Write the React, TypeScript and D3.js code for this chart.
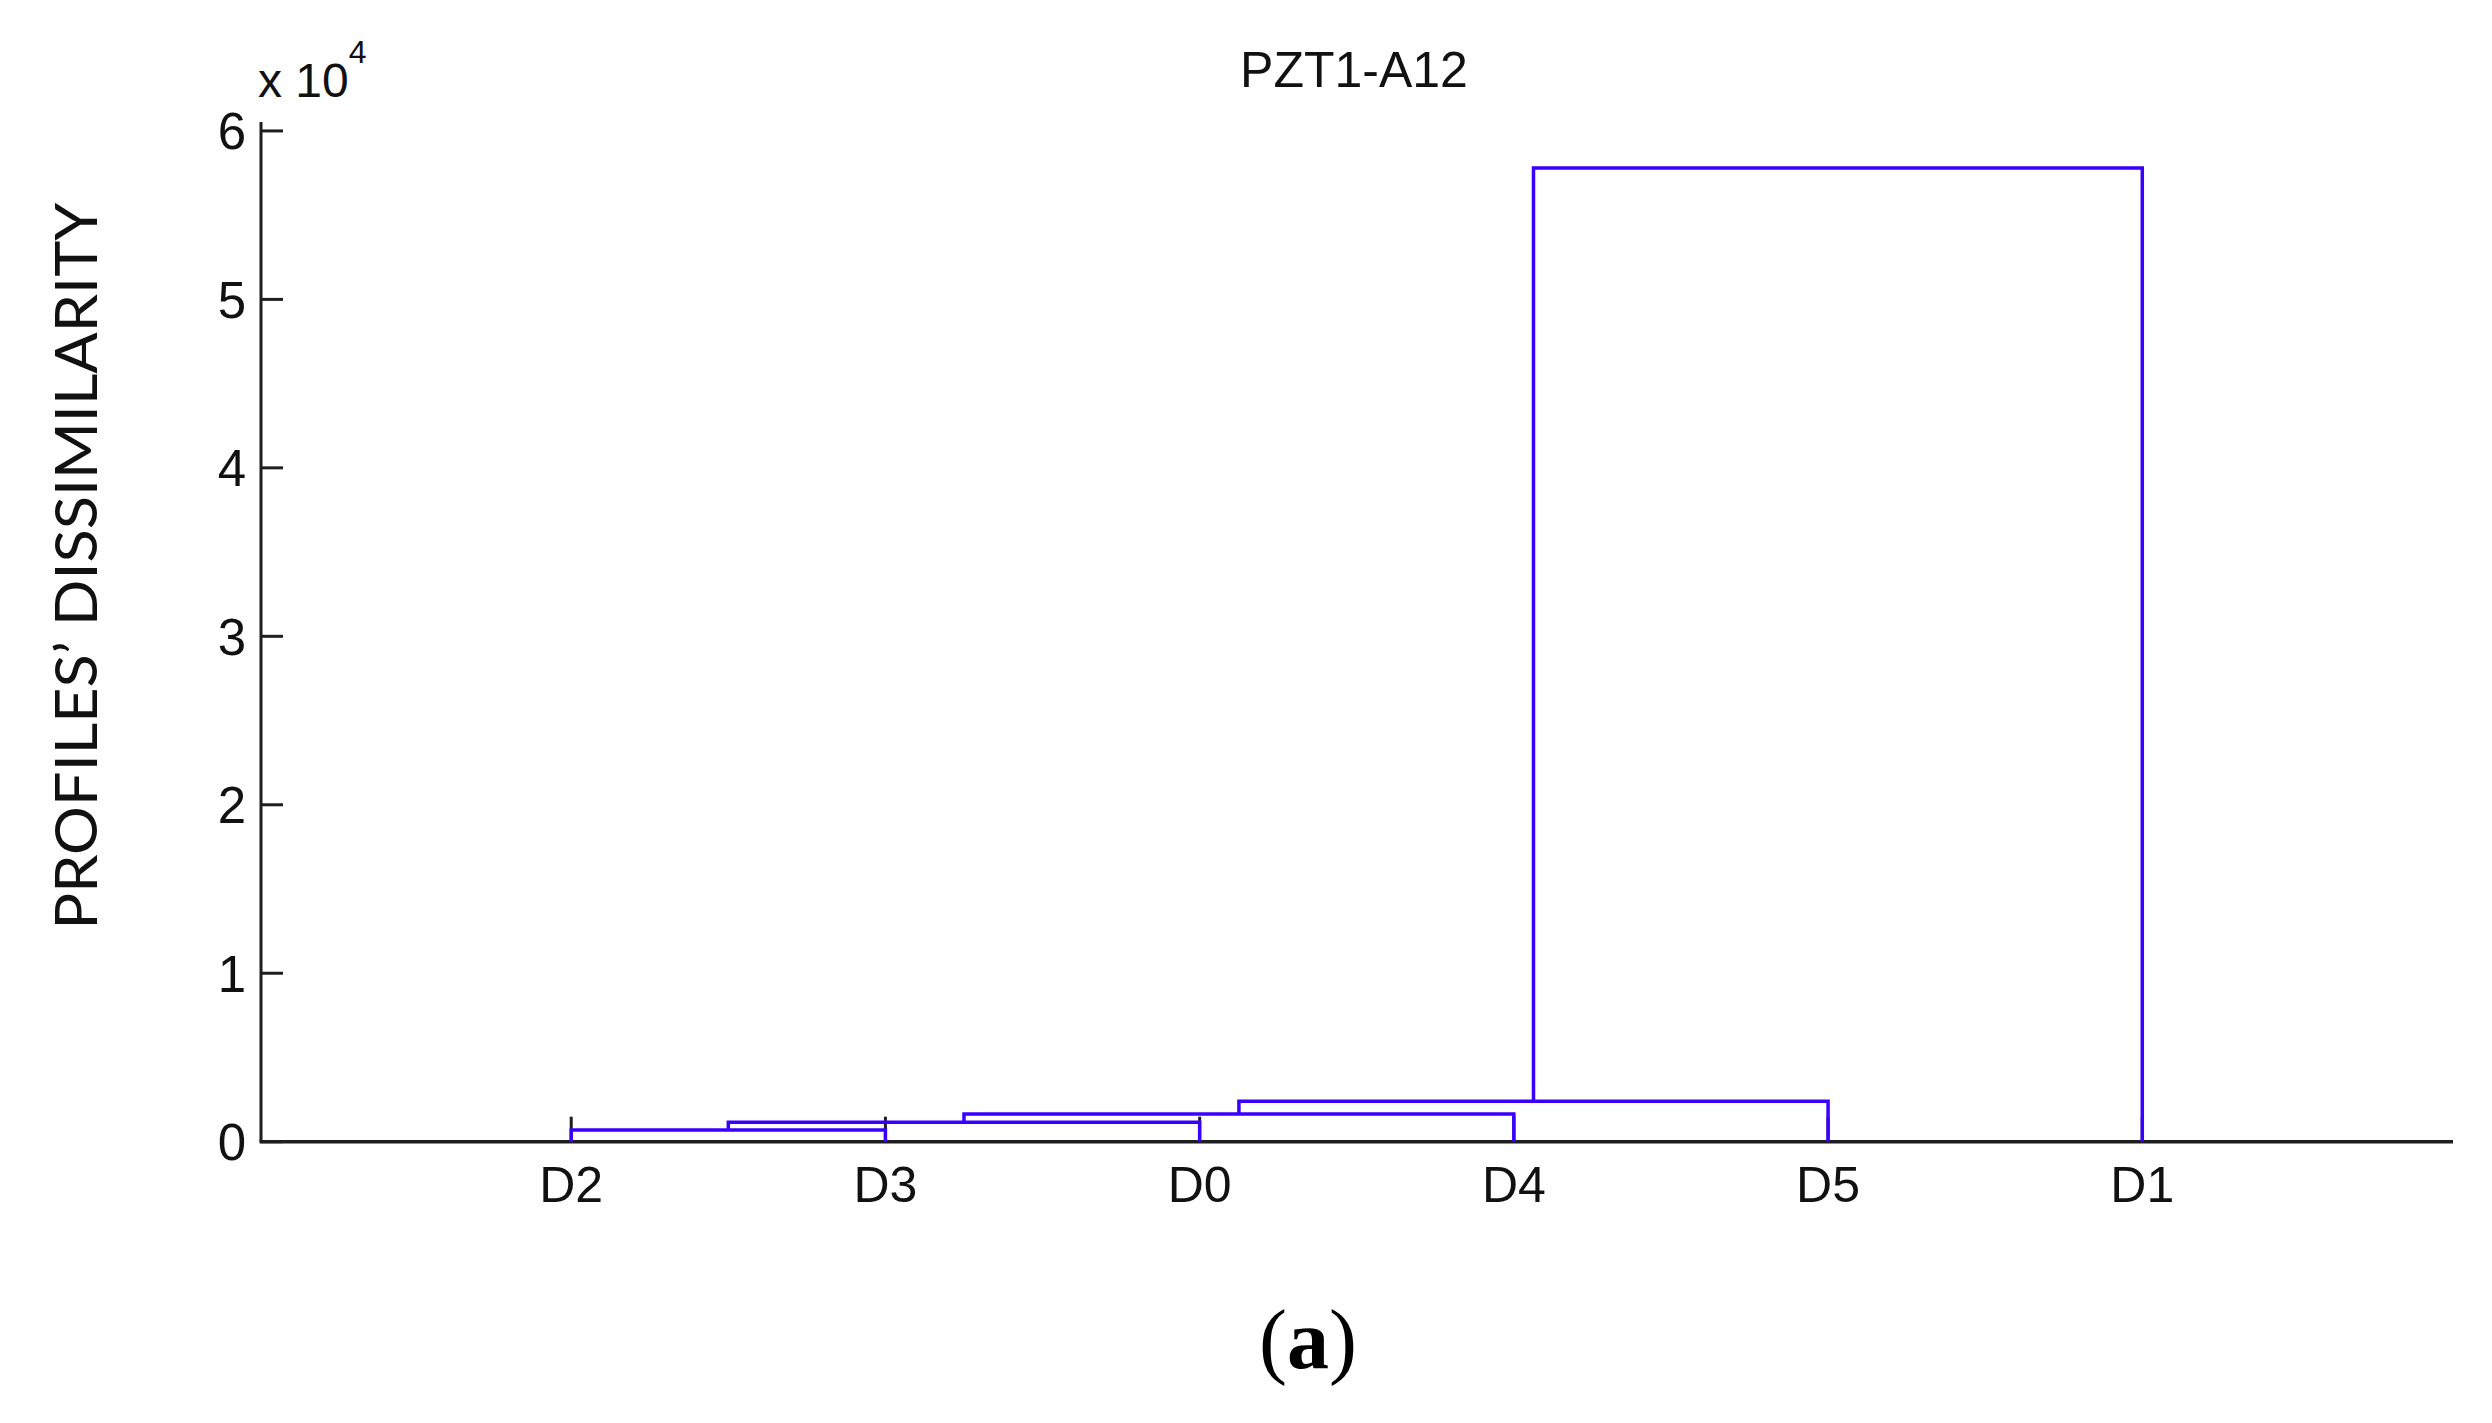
import React from "react";
import * as d3 from "d3";

// Leaves in dendrogram order
const leafLabels = ["D2", "D3", "D0", "D4", "D5", "D1"];
// Linkage: node ids 0..5 are leaves (in order above), new clusters get ids 6,7,...
const mergeLeft = [0, 6, 7, 8, 9];
const mergeRight = [1, 2, 3, 4, 5];
const mergeHeight = [690, 1160, 1650, 2400, 57800];
// Y ticks (units of 10^4)
const yTicks = [0, 1, 2, 3, 4, 5, 6];

const W = 2492;
const H = 1423;
const axLeft = 261;
const axRight = 2453;
const axBottom = 1141.7;
const axTop = 122;
const yMax = 60530;

const BLUE = "#3a00ff";
const AXIS = "#1e1e1e";
const FONT = "'Liberation Sans', Arial, Helvetica, sans-serif";

export default function App() {
  const x = d3.scaleLinear().domain([0, leafLabels.length + 1]).range([257, 2456.5]);
  const y = d3.scaleLinear().domain([0, yMax]).range([axBottom, axTop]);

  // compute node positions
  const nodeX: number[] = leafLabels.map((_, i) => i + 1);
  const nodeH: number[] = leafLabels.map(() => 0);
  const links: string[] = [];
  mergeLeft.forEach((a, i) => {
    const b = mergeRight[i];
    const h = mergeHeight[i];
    const p = d3.path();
    p.moveTo(x(nodeX[a]), y(nodeH[a]));
    p.lineTo(x(nodeX[a]), y(h));
    p.lineTo(x(nodeX[b]), y(h));
    p.lineTo(x(nodeX[b]), y(nodeH[b]));
    links.push(p.toString());
    nodeX.push((nodeX[a] + nodeX[b]) / 2);
    nodeH.push(h);
  });

  const tickLen = 22;

  return (
    <svg
      width={W}
      height={H}
      viewBox={`0 0 ${W} ${H}`}
      style={{ position: "absolute", left: 0, top: 0, background: "#fff" }}
    >
      <rect x={0} y={0} width={W} height={H} fill="#fff" />
      {/* title */}
      <text x={1354} y={87} textAnchor="middle" fontFamily={FONT} fontSize={50} fill="#111">
        PZT1-A12
      </text>
      {/* exponent */}
      <text x={258} y={97} fontFamily={FONT} fontSize={48} fill="#111">
        x 10
        <tspan dy={-34} fontSize={32}>4</tspan>
      </text>
      {/* y axis label */}
      <text
        transform={`translate(97,566) rotate(-90)`}
        textAnchor="middle"
        fontFamily="Lato, 'Open Sans', sans-serif"
        fontSize={58}
        fill="#111"
        textLength={727}
        lengthAdjust="spacingAndGlyphs"
      >
        PROFILES’ DISSIMILARITY
      </text>
      {/* y ticks */}
      {yTicks.map((t) => (
        <g key={t}>
          <line x1={axLeft} x2={axLeft + tickLen} y1={y(t * 1e4)} y2={y(t * 1e4)} stroke={AXIS} strokeWidth={3} />
          <text
            x={246}
            y={y(t * 1e4)}
            dy="0.36em"
            textAnchor="end"
            fontFamily={FONT}
            fontSize={51}
            fill="#111"
          >
            {t}
          </text>
        </g>
      ))}
      {/* x ticks */}
      {leafLabels.map((l, i) => (
        <g key={l}>
          <line x1={x(i + 1)} x2={x(i + 1)} y1={axBottom} y2={axBottom - 25} stroke={AXIS} strokeWidth={3} />
          <text x={x(i + 1)} y={1202} textAnchor="middle" fontFamily={FONT} fontSize={50} fill="#111">
            {l}
          </text>
        </g>
      ))}
      {/* axes */}
      <line x1={axLeft} x2={axLeft} y1={axTop} y2={axBottom} stroke={AXIS} strokeWidth={3} />
      <line x1={axLeft - 1.5} x2={axRight} y1={axBottom} y2={axBottom} stroke={AXIS} strokeWidth={3.5} />
      {/* dendrogram links */}
      {links.map((d, i) => (
        <path key={i} d={d} fill="none" stroke={BLUE} strokeWidth={3.5} strokeLinejoin="miter" />
      ))}
      {/* panel label */}
      <text x={1308} y={1368} textAnchor="middle" fontFamily="'Liberation Serif', 'Times New Roman', serif" fontSize={84} fill="#000">
        (<tspan fontWeight="bold">a</tspan>)
      </text>
    </svg>
  );
}
